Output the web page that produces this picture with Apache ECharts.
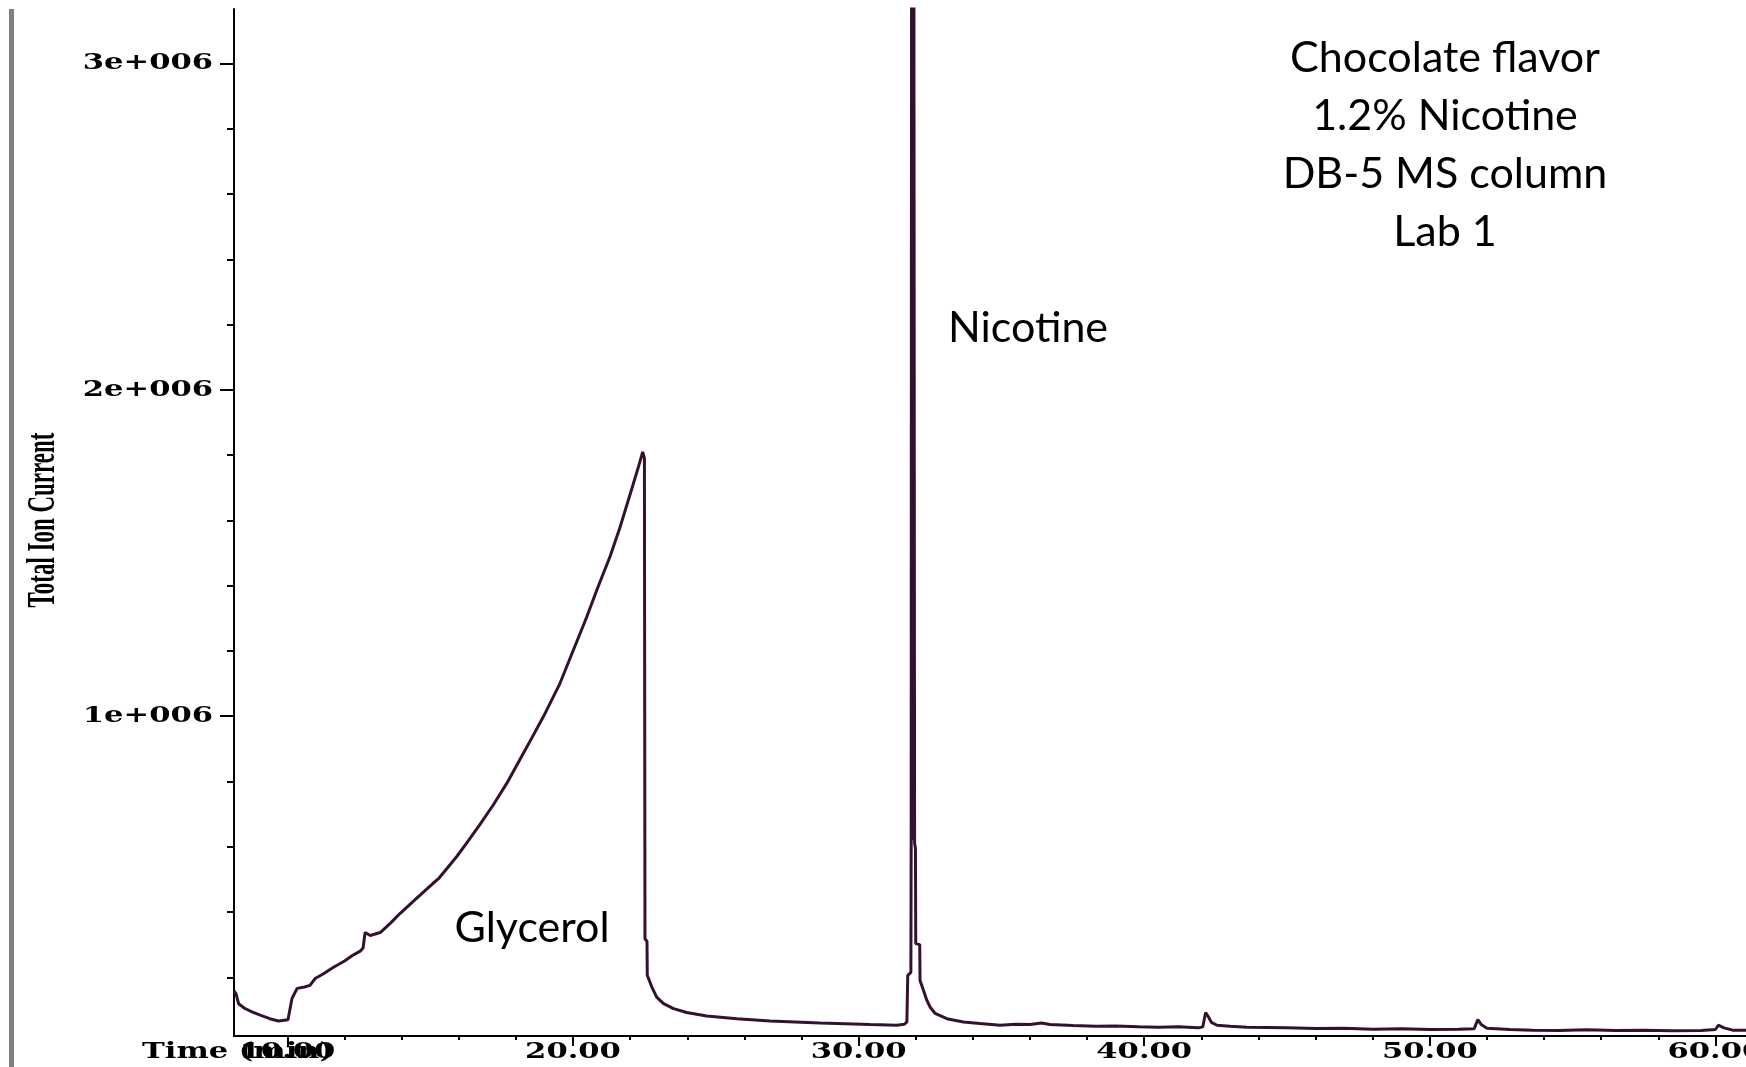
<!DOCTYPE html>
<html><head><meta charset="utf-8">
<style>html,body{margin:0;padding:0;background:#fff}#c{width:1746px;height:1067px}</style>
<script src="https://cdn.jsdelivr.net/npm/echarts@6/dist/echarts.min.js"></script>
</head><body><div id="c"></div>
<script>
// Retention time (min)
const times = [8.13,8.20,8.29,8.50,8.76,9.05,9.38,9.69,10.02,10.16,10.34,10.60,10.79,10.97,11.25,11.60,12.00,12.30,12.55,12.65,12.72,12.90,13.25,13.60,13.95,14.50,15.10,15.29,15.93,16.35,16.75,17.20,17.68,18.45,18.96,19.54,20.01,20.48,20.83,21.30,21.65,22.00,22.29,22.44,22.50,22.52,22.59,22.60,22.76,22.93,23.17,23.52,23.98,24.68,25.74,26.90,28.65,30.40,31.34,31.60,31.69,31.72,31.83,31.84,31.86,31.89,31.92,31.96,31.99,32.00,32.14,32.15,32.27,32.39,32.50,32.68,33.09,33.67,34.25,34.95,35.5,36.0,36.4,36.7,37.5,38.3,39.0,39.8,40.5,41.2,41.9,42.05,42.15,42.25,42.35,42.55,43.0,43.6,44.3,45.0,46.0,47.0,48.0,49.0,50.0,51.0,51.55,51.68,51.80,52.0,52.8,53.6,54.5,55.5,56.5,57.5,58.5,59.5,60.0,60.1,60.3,60.6,61.07];
// Total ion current
const tic = [158000,150000,119000,105000,94000,84000,73000,66000,70000,135000,166000,170000,175000,196000,210000,230000,250000,268000,280000,290000,337000,328000,337000,365000,396000,440000,488000,502000,570000,620000,669000,727000,794000,916000,998000,1100000,1202000,1304000,1386000,1490000,1580000,1680000,1764000,1810000,1790000,318000,310000,206000,170000,139000,119000,104000,92000,81000,73000,66000,60000,55000,53000,56000,63000,206000,215000,600000,5000000,620000,5000000,610000,595000,303000,300000,190000,160000,129000,109000,89000,73000,63000,58000,53000,56000,55000,60000,55000,52000,50000,51000,48000,47000,48000,45000,48000,92000,78000,62000,53000,50000,47000,46000,45000,43000,44000,41000,42000,40000,41000,42000,70000,55000,44000,40000,38000,37000,39000,37000,38000,36000,37000,40000,53000,45000,38000,38000];
const xMajorTicks = [10,20,30,40,50,60];
const xMinorTicks = [10,12,14,16,18,20,22,24,26,28,30,32,34,36,38,40,42,44,46,48,50,52,54,56,58,60];
const yMajorTicks = [1000000,2000000,3000000];
const yMinorTicks = [200000,400000,600000,800000,1000000,1200000,1400000,1600000,1800000,2000000,2200000,2400000,2600000,2800000,3000000];
const notes = ['Chocolate flavor','1.2% Nicotine','DB-5 MS column','Lab 1'];

const data = times.map((t,i)=>[t, tic[i]]);
const X_MIN = 8.13, X_MAX = 61.07, Y_MIN = 20000, Y_MAX = 3167000;

const chart = echarts.init(document.getElementById('c'), null, {renderer:'canvas'});
chart.setOption({
  animation:false,
  backgroundColor:'#fff',
  grid:{left:234, right:0, top:9, bottom:31, containLabel:false, outerBoundsMode:'none'},
  xAxis:[{
    type:'value', min:X_MIN, max:X_MAX, position:'bottom',
    axisLine:{show:true, onZero:false, lineStyle:{color:'#000', width:2}},
    axisTick:{show:true, customValues:xMajorTicks, length:10, lineStyle:{color:'#000', width:2}},
    axisLabel:{show:false},
    splitLine:{show:false}
  },{
    type:'value', min:X_MIN, max:X_MAX, position:'bottom',
    axisLine:{show:false},
    axisTick:{show:true, customValues:xMinorTicks, length:4, lineStyle:{color:'#000', width:2}},
    axisLabel:{show:false},
    splitLine:{show:false}
  }],
  yAxis:[{
    type:'value', min:Y_MIN, max:Y_MAX, position:'left',
    axisLine:{show:true, onZero:false, lineStyle:{color:'#000', width:2}},
    axisTick:{show:true, customValues:yMajorTicks, length:14, lineStyle:{color:'#000', width:2}},
    axisLabel:{show:false},
    splitLine:{show:false}
  },{
    type:'value', min:Y_MIN, max:Y_MAX, position:'left',
    axisLine:{show:false},
    axisTick:{show:true, customValues:yMinorTicks, length:7, lineStyle:{color:'#000', width:2}},
    axisLabel:{show:false},
    splitLine:{show:false}
  }],
  series:[{
    type:'line', data:data, xAxisIndex:0, yAxisIndex:0, symbol:'none', clip:true,
    lineStyle:{color:'#34122f', width:3}
  }]
});

// Tick labels in the wide bold bitmap-like face of the original, placed through the axes' own scales
const tickFont = 'bold 23px "DejaVu Serif"';
const STRETCH = 1.33;
const txt = (o) => Object.assign({type:'text', silent:true}, o);
const st = (text, font, align, extra) => Object.assign({text:text, font:font, fill:'#000', align:align, textAlign:align, verticalAlign:'middle', textVerticalAlign:'middle', x:0, y:0}, extra||{});
const gfx = [];
gfx.push({type:'rect', shape:{x:9, y:9, width:5, height:1058}, style:{fill:'#808080'}, silent:true});
xMajorTicks.forEach(v => {
  const p = chart.convertToPixel({xAxisIndex:0}, v);
  gfx.push(txt({x:p, y:1052, scaleX:STRETCH, style:st(v.toFixed(2), tickFont, 'center')}));
});
yMajorTicks.forEach(v => {
  const p = chart.convertToPixel({yAxisIndex:0}, v);
  gfx.push(txt({x:213, y:p, scaleX:STRETCH, style:st((v/1e6)+'e+006', tickFont, 'right')}));
});
gfx.push(txt({x:142, y:1052, scaleX:STRETCH, style:st('Time (min)', tickFont, 'left')}));
gfx.push(txt({x:43, y:520, rotation:Math.PI/2, scaleX:0.56, style:st('Total Ion Current', 'bold 41px "Liberation Serif"', 'center')}));
notes.forEach((s,i) => gfx.push(txt({x:1445, y:58+58*i, style:st(s, '43px Lato', 'center')})));
gfx.push(txt({x:1028, y:328, style:st('Nicotine', '43px Lato', 'center')}));
gfx.push(txt({x:532, y:928, style:st('Glycerol', '43px Lato', 'center')}));
chart.setOption({graphic:gfx});
</script></body></html>
